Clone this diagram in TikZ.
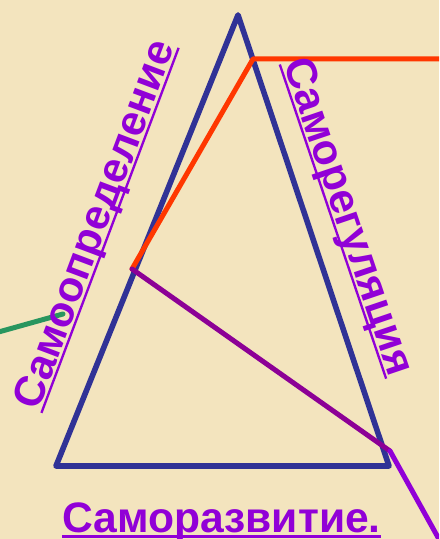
\documentclass[tikz,border=0pt]{standalone}
\usepackage{fontspec}
\setmainfont{Liberation Sans}

\definecolor{fon}{RGB}{243,228,190}
\definecolor{rebro}{RGB}{48,50,150}
\definecolor{krasn}{RGB}{255,55,0}
\definecolor{fiol}{RGB}{140,0,150}
\definecolor{fioltxt}{RGB}{145,0,215}
\definecolor{zelen}{RGB}{40,150,95}

% подчёркнутый текст
\newcommand{\podcherk}[1]{{\setbox0\hbox{#1}\rlap{\rule[-0.11em]{\wd0}{0.055em}}\box0}}

\begin{document}
\begin{tikzpicture}[
    x=0.5pt,y=0.5pt,
    line cap=round,
    line join=round,
    tri/.style={line width=2.8pt,draw=rebro},
    linia/.style={line width=2.5pt},
    nadpis/.style={inner sep=0pt,text=fioltxt,font=\bfseries\fontsize{21.3}{25}\selectfont}
]

% -------------------------------------------------
% Фон
% -------------------------------------------------
\fill[fon] (0,0) rectangle (439,539);
\useasboundingbox (0,0) rectangle (439,539);
\clip (0,0) rectangle (439,539);

% -------------------------------------------------
% Вершины треугольника
% -------------------------------------------------
\coordinate (A) at (238,524);  % верхняя
\coordinate (B) at (56,73);    % левая нижняя
\coordinate (C) at (389,73);   % правая нижняя

% -------------------------------------------------
% Точки ломаных
% -------------------------------------------------
\coordinate (K) at (132,270);  % на левой стороне
\coordinate (L) at (253,480);  % у правой стороны
\coordinate (M) at (450,480);  % за правым краем
\coordinate (P) at (390,88);   % у правой нижней вершины
\coordinate (Q) at (445,-11);  % за нижним краем
\coordinate (G1) at (-5,206);  % зелёная, левый конец
\coordinate (G2) at (63,225);  % зелёная, правый конец

% -------------------------------------------------
% Треугольник
% -------------------------------------------------
\draw[tri] (A)--(B)--(C)--cycle;

% -------------------------------------------------
% Ломаные
% -------------------------------------------------
\draw[linia,zelen] (G1)--(G2);
\draw[linia,krasn] (K)--(L)--(M);
\draw[linia,fiol] (K)--(P);
\draw[linia,fioltxt] (P)--(Q);

% -------------------------------------------------
% Надписи
% -------------------------------------------------
\node[nadpis,anchor=base west,rotate=69.4] (levo) at (38,127) {\podcherk{Самоопределение}};
\node[nadpis,anchor=base west,rotate=-71.3] (pravo) at (283,476) {\podcherk{Саморегуляция}};
\node[nadpis,anchor=base west] (niz) at (62,6) {\podcherk{Саморазвитие.}};

\end{tikzpicture}
\end{document}
